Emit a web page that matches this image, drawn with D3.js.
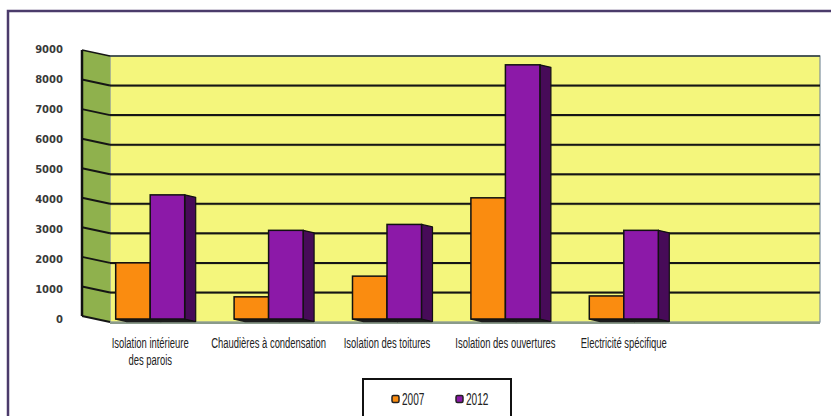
<!DOCTYPE html>
<html>
<head>
<meta charset="utf-8">
<script src="https://cdn.jsdelivr.net/npm/d3@7"></script>
<style>
  body { margin: 0; background: #fff; }
  svg { display: block; }
</style>
</head>
<body>
<div id="chart"></div>
<script>
// Data
const categories = [
  'Isolation intérieure des parois',
  'Chaudières à condensation',
  'Isolation des toitures',
  'Isolation des ouvertures',
  'Electricité spécifique'
];
const labelLines = [
  ['Isolation intérieure', 'des parois'],
  ['Chaudières à condensation'],
  ['Isolation des toitures'],
  ['Isolation des ouvertures'],
  ['Electricité spécifique']
];
const series = ['2007', '2012'];
const values2007 = [1900, 750, 1450, 4100, 780];
const values2012 = [4200, 3000, 3200, 8600, 3000];
const yTicks = [0, 1000, 2000, 3000, 4000, 5000, 6000, 7000, 8000, 9000];

const width = 831, height = 416;
const labelFont = '"Liberation Sans", Arial, sans-serif';
const condense = 0.63; // the original uses a narrow font

const colors = {
  '2007': { front: '#fa8c10', side: '#a95a05' },
  '2012': { front: '#8c19a8', side: '#470b58' }
};

const svg = d3.select('#chart').append('svg')
  .attr('width', width)
  .attr('height', height);

// outer frame (cut off at right/bottom)
svg.append('path')
  .attr('d', `M8,${height + 4} V11 H${width + 4}`)
  .attr('fill', 'none')
  .attr('stroke', '#4b3b6b')
  .attr('stroke-width', 2.5);

// scales
const y = d3.scaleLinear().domain([0, 9000]).range([322, 56]);
const yLabel = d3.scaleLinear().domain([0, 9000]).range([320, 50]);
const x0 = d3.scaleBand().domain(categories).range([91, 683]);
const barW = 34.5;
const x1 = d3.scaleBand().domain(series).range([-barW, barW]);

const wallLeft = 110, wallRight = 820;
const sideDx = -28, sideDy = -6;   // back wall -> front edge of side wall
const barDx = 11, barDy = 2.5;     // depth of each bar
const barShift = -3;               // bars stand in front of the back wall

// back wall
svg.append('rect')
  .attr('x', wallLeft).attr('y', y(9000))
  .attr('width', wallRight - wallLeft)
  .attr('height', y(0) - y(9000))
  .attr('fill', '#f4f67c')
  .attr('stroke', '#7d8f9c')
  .attr('stroke-width', 1.2);

// side wall
svg.append('polygon')
  .attr('points', [
    [wallLeft, y(9000)], [wallLeft + sideDx, y(9000) + sideDy],
    [wallLeft + sideDx, y(0) + sideDy], [wallLeft, y(0)]
  ].map(p => p.join(',')).join(' '))
  .attr('fill', '#8fb14d');

// grid lines
yTicks.forEach(v => {
  if (v > 0 && v < 9000) {
    svg.append('line')
      .attr('x1', wallLeft).attr('x2', wallRight)
      .attr('y1', y(v) + 1).attr('y2', y(v) + 1)
      .attr('stroke', '#6f7a3a').attr('stroke-width', 1).attr('stroke-opacity', 0.5);
    svg.append('line')
      .attr('x1', wallLeft).attr('x2', wallRight)
      .attr('y1', y(v)).attr('y2', y(v))
      .attr('stroke', '#151515').attr('stroke-width', 2);
  }
  svg.append('line')
    .attr('x1', wallLeft + sideDx).attr('y1', y(v) + sideDy)
    .attr('x2', wallLeft).attr('y2', y(v))
    .attr('stroke', '#151515').attr('stroke-width', v === 9000 ? 1.5 : 2);
});

// top edge and floor
svg.append('line')
  .attr('x1', wallLeft).attr('x2', wallRight)
  .attr('y1', y(9000)).attr('y2', y(9000))
  .attr('stroke', '#2d3a3a').attr('stroke-width', 1.5);
svg.append('line')
  .attr('x1', wallLeft).attr('x2', wallRight)
  .attr('y1', y(0) + 1).attr('y2', y(0) + 1)
  .attr('stroke', '#8a9a8a').attr('stroke-width', 2);

// front edge of side wall
svg.append('line')
  .attr('x1', wallLeft + sideDx).attr('x2', wallLeft + sideDx)
  .attr('y1', y(9000) + sideDy).attr('y2', y(0) + sideDy)
  .attr('stroke', '#111').attr('stroke-width', 2.5);

// y tick labels
svg.append('g').selectAll('text')
  .data(yTicks)
  .join('text')
  .attr('x', 63)
  .attr('y', d => yLabel(d))
  .attr('text-anchor', 'end')
  .attr('dominant-baseline', 'middle')
  .attr('font-family', '"DejaVu Sans", sans-serif')
  .attr('font-size', '10px')
  .attr('font-weight', '600')
  .attr('fill', '#3a3a3a')
  .text(d => d);

// bars
const valuesBySeries = { '2007': values2007, '2012': values2012 };
const bars = svg.append('g');
categories.forEach((cat, i) => {
  const cx = x0(cat) + x0.bandwidth() / 2;
  series.forEach(s => {
    const v = valuesBySeries[s][i];
    const xl = cx + x1(s);
    const w = x1.bandwidth();
    const top = y(v) + barShift;
    const bottom = y(0) + barShift;
    // bottom face (seen from below)
    bars.append('polygon')
      .attr('points', [[xl, bottom], [xl + w, bottom], [xl + w + barDx, bottom + barDy], [xl + barDx, bottom + barDy]]
        .map(p => p.join(',')).join(' '))
      .attr('fill', '#1c1c1c').attr('stroke', '#1c1c1c').attr('stroke-width', 1.5);
    // side face
    bars.append('polygon')
      .attr('points', [[xl + w, top], [xl + w + barDx, top + barDy], [xl + w + barDx, bottom + barDy], [xl + w, bottom]]
        .map(p => p.join(',')).join(' '))
      .attr('fill', colors[s].side).attr('stroke', '#111').attr('stroke-width', 1.2)
      .attr('stroke-linejoin', 'round');
    // front face
    bars.append('rect')
      .attr('x', xl).attr('y', top)
      .attr('width', w).attr('height', bottom - top)
      .attr('fill', colors[s].front)
      .attr('stroke', '#111').attr('stroke-width', 1.5);
  });
});

// category labels (narrow look through a horizontal squeeze)
const labels = svg.append('g');
categories.forEach((cat, i) => {
  const g = labels.append('g')
    .attr('transform', `translate(${x0(cat) + x0.bandwidth() / 2},348) scale(${condense},1)`);
  labelLines[i].forEach((line, j) => {
    g.append('text')
      .attr('x', 0)
      .attr('y', j * 17)
      .attr('text-anchor', 'middle')
      .attr('font-family', labelFont)
      .attr('font-size', '15px')
      .attr('fill', '#222')
      .text(line);
  });
});

// legend
const legend = svg.append('g');
legend.append('rect')
  .attr('x', 363).attr('y', 379)
  .attr('width', 148).attr('height', 60)
  .attr('fill', '#fff')
  .attr('stroke', '#111').attr('stroke-width', 2);
const lx = d3.scalePoint().domain(series).range([392, 456]);
series.forEach(s => {
  legend.append('rect')
    .attr('x', lx(s)).attr('y', 395.5)
    .attr('width', 7).attr('height', 7).attr('rx', 1.5)
    .attr('fill', colors[s].front)
    .attr('stroke', '#222').attr('stroke-width', 1.5);
  legend.append('text')
    .attr('transform', `translate(${lx(s) + 10},405) scale(${condense},1)`)
    .attr('font-family', labelFont)
    .attr('font-size', '16px')
    .attr('fill', '#222')
    .text(s);
});
</script>
</body>
</html>
